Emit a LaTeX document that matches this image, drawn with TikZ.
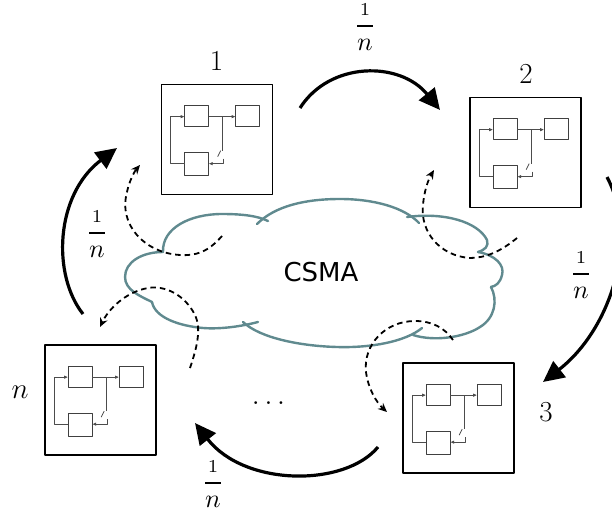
\RequirePackage{fix-cm}
\documentclass[tikz,border=0pt]{standalone}
\usepackage{fontspec}
\usepackage{graphicx}
\newfontfamily\cloudfont{DejaVu Sans}
\usetikzlibrary{arrows.meta}
\definecolor{cloudline}{RGB}{96,138,143}
\tikzset{
  box/.style={draw=black, line width=1.7pt, minimum width=111pt, minimum height=110pt, inner sep=0pt, fill=white},
  mini/.style={draw=black!75, line width=0.9pt},
  wire/.style={draw=black!70, line width=0.8pt},
  wtip/.style={-{Latex[length=4pt,width=3.5pt]}},
  hop/.style={line width=3.2pt, -{Triangle[length=21pt,width=20pt]}},
  sense/.style={line width=1.8pt, dash pattern=on 5.5pt off 4pt, -{Stealth[length=9pt,width=8pt]}},
  cloudedge/.style={draw=cloudline, line width=2.4pt, line cap=round},
  lbl/.style={font=\fontsize{29}{34}\selectfont, inner sep=0pt},
  rate/.style={font=\fontsize{10}{12}\selectfont, inner sep=0pt},
  subsys/.pic={
    \draw[mini] (24,22) rectangle (48,43);
    \draw[mini] (75,22) rectangle (99,43);
    \draw[mini] (24,69) rectangle (48,92);
    \draw[wire,wtip] (24,80) -- (10,80) -- (10,33) -- (24,33);
    \draw[wire,wtip] (48,33) -- (75,33);
    \draw[wire] (62,33) -- (62,67);
    \draw[wire] (57,73) -- (60,67);
    \draw[wire,wtip] (63,75) -- (63,80) -- (48,80);
  }
}
\newcommand{\rateof}{\scalebox{2.6}{$\displaystyle{\scriptstyle 1\above0.7pt n}$}}
\begin{document}
\begin{tikzpicture}[x=1pt,y=-1pt, line join=round]
\useasboundingbox (0,0) rectangle (612,513);
\clip (0,0) rectangle (612,513);

% the shared medium
\draw[cloudedge] (163,252) .. controls (162,228) and (190,214) .. (222,214)
                 .. controls (243,214) and (258,216) .. (268,221);
\draw[cloudedge] (257,224) .. controls (275,206) and (305,199) .. (340,199)
                 .. controls (375,199) and (405,208) .. (419,223);
\draw[cloudedge] (407,217) .. controls (445,212) and (478,222) .. (487,240)
                 .. controls (489,246) and (485,250) .. (478,252);
\draw[cloudedge] (478,252) .. controls (495,255) and (505,265) .. (502,275)
                 .. controls (500,283) and (496,286) .. (491,287);
\draw[cloudedge] (491,287) .. controls (498,300) and (495,318) .. (480,327)
                 .. controls (465,337) and (435,342) .. (413,335);
\draw[cloudedge] (422,328) .. controls (405,342) and (370,348) .. (337,347)
                 .. controls (300,346) and (260,338) .. (243,322);
\draw[cloudedge] (258,322) .. controls (235,328) and (215,329) .. (203,328)
                 .. controls (180,326) and (155,318) .. (152,302);
\draw[cloudedge] (152,302) .. controls (140,296) and (125,290) .. (125,277)
                 .. controls (125,262) and (142,252) .. (163,252);
\node[font=\cloudfont\fontsize{26}{30}\selectfont, inner sep=0pt] (csma) at (321,272) {CSMA};

% stations
\node[box] (b1) at (217,139.5) {};
\node[box] (b2) at (525.5,152.5) {};
\node[box] (b3) at (458.5,418) {};
\node[box] (bn) at (100.5,400) {};
\pic at (b1.north west) {subsys};
\pic at (b2.north west) {subsys};
\pic at (b3.north west) {subsys};
\pic at (bn.north west) {subsys};

\node[lbl] (l1) at (216.5,61) {1};
\node[lbl] (l2) at (526,74) {2};
\node[lbl] (l3) at (546,412) {3};
\node[lbl] (ln) at (20,392) {$n$};
\node[lbl, anchor=base] (dots) at (268.5,404) {$\dots$};

% token passing between stations
\coordinate (s1a) at (300,108);  \coordinate (s1b) at (440,110);
\coordinate (s2a) at (607,177);  \coordinate (s2b) at (543,382);
\coordinate (s3a) at (378,447);  \coordinate (s3b) at (195,423);
\coordinate (s4a) at (83,314);   \coordinate (s4b) at (117,148);
\draw[hop] (s1a) .. controls (330,61) and (400,61) .. (s1b);
\draw[hop] (s2a) .. controls (640,240) and (610,330) .. (s2b);
\draw[hop] (s3a) .. controls (345,487) and (245,487) .. (s3b);
\draw[hop] (s4a) .. controls (52,275) and (55,195) .. (s4b);

\node[rate] (r1) at (365,27) {\rateof};
\node[rate] (r2) at (581,275) {\rateof};
\node[rate] (r3) at (213,484) {\rateof};
\node[rate] (r4) at (97,234) {\rateof};

% carrier sensing between medium and stations
\coordinate (d1a) at (222,236); \coordinate (d1b) at (140,165);
\coordinate (d2a) at (190,368); \coordinate (d2b) at (100,327);
\coordinate (d3a) at (517,238); \coordinate (d3b) at (434,170);
\coordinate (d4a) at (453,340); \coordinate (d4b) at (387,412);
\draw[sense] (d1a) .. controls (208,252) and (196,256) .. (180,255)
             .. controls (145,253) and (118,225) .. (127,192)
             .. controls (129,182) and (134,172) .. (d1b);
\draw[sense] (d2a) .. controls (196,350) and (202,330) .. (195,315)
             .. controls (185,295) and (165,285) .. (148,288)
             .. controls (125,292) and (108,310) .. (d2b);
\draw[sense] (d3a) .. controls (500,252) and (485,258) .. (470,258)
             .. controls (440,256) and (420,232) .. (423,205)
             .. controls (424,192) and (428,180) .. (d3b);
\draw[sense] (d4a) .. controls (445,328) and (432,321) .. (415,321)
             .. controls (385,321) and (363,345) .. (366,372)
             .. controls (368,388) and (376,402) .. (d4b);
\end{tikzpicture}
\end{document}
